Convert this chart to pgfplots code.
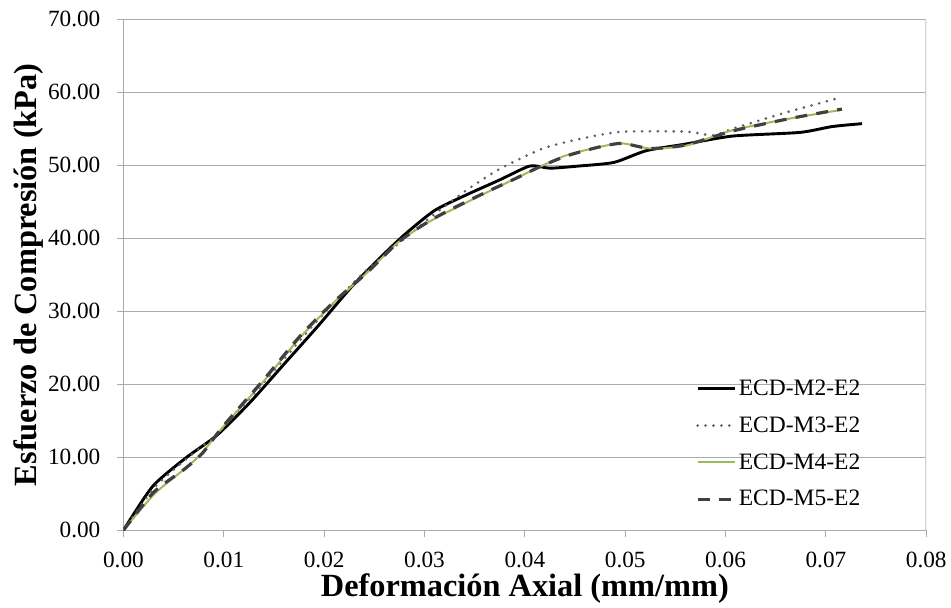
\documentclass[border=0pt]{standalone}
\usepackage{fontspec}
\setmainfont{Liberation Serif}
\usepackage{pgfplots}
\pgfplotsset{compat=1.18}
\definecolor{gridgray}{RGB}{170,170,170}
\definecolor{edgegray}{RGB}{212,212,212}
\definecolor{dotgray}{RGB}{95,95,95}
\definecolor{dashgray}{RGB}{64,64,64}
\definecolor{exgreen}{RGB}{155,187,89}

\begin{document}
\begin{tikzpicture}
\begin{axis}[
    scale only axis,
    width=608pt, height=387pt,
    xmin=0, xmax=0.08, ymin=0, ymax=70,
    xtick={0,0.01,...,0.08},
    ytick={0,10,...,70},
    ymajorgrids,
    grid style={gridgray, line width=0.8pt},
    axis line style={gridgray, line width=0.8pt},
    axis x line*=bottom, axis y line*=left,
    tick align=outside,
    major tick length=5pt,
    tick style={gridgray, line width=0.8pt},
    xtick pos=bottom, ytick pos=left,
    /pgf/number format/assume math mode=true,
    /pgf/number format/.cd, fixed, fixed zerofill, precision=2, /pgfplots/.cd,
    scaled x ticks=false,
    ticklabel style={font=\rmfamily\fontsize{17.6pt}{20pt}\selectfont, text=black},
    xticklabel style={yshift=-8pt},
    yticklabel style={xshift=-9pt},
    xlabel={\textbf{Deformación Axial (mm/mm)}},
    ylabel={\textbf{Esfuerzo de Compresión (kPa)}},
    label style={font=\rmfamily\fontsize{24.5pt}{28pt}\selectfont},
    xlabel style={at={(axis description cs:0.5,-0.129)}, anchor=base},
    ylabel style={at={(axis description cs:-0.118,0.5)}, anchor=center},
    legend style={at={(0.708,0.305)}, anchor=north west, draw=none, fill=none,
        font=\rmfamily\fontsize{17.8pt}{20pt}\selectfont, row sep=10.6pt,
        /tikz/every even column/.append style={column sep=0pt}},
    legend cell align=left,
    legend image code/.code={\draw[#1] (0pt,0pt) -- (28pt,0pt);},
]
\coordinate (topleft) at (rel axis cs:0,1);
\draw[edgegray, line width=1.5pt] (rel axis cs:1,0) -- (rel axis cs:1,1);
\addplot[black, line width=2.2pt, smooth, tension=0.4] coordinates {
(0,0) (0.0029,6.0) (0.0062,9.9) (0.0093,13.0) (0.0126,17.5) (0.0159,22.6)
(0.0194,28.0) (0.0227,33.3) (0.0257,37.5) (0.0281,40.6) (0.0310,43.8)
(0.0341,45.9) (0.0375,48.0) (0.0405,49.9) (0.0425,49.6) (0.0454,49.9)
(0.0489,50.4) (0.0521,52.0) (0.0560,52.9) (0.0607,54.0) (0.0674,54.5)
(0.0706,55.3) (0.0736,55.7)
};
\addlegendentry{ECD-M2-E2}
\addplot[dotgray, line width=2.2pt, line cap=round, dash pattern=on 0pt off 6pt, smooth, tension=0.4] coordinates {
(0,0) (0.003,5.7) (0.0061,9.6) (0.0091,12.9) (0.0121,17.3) (0.0151,22.0)
(0.0182,27.0) (0.0212,31.5) (0.0242,35.6) (0.0277,39.6) (0.0309,43.2)
(0.0342,46.6) (0.0375,49.5) (0.0418,52.3) (0.0458,53.7) (0.0497,54.6)
(0.0561,54.6) (0.0587,54.1) (0.0607,55.0) (0.0657,57.1) (0.0715,59.3)
};
\addlegendentry{ECD-M3-E2}
\addplot[exgreen, line width=1.5pt, smooth, tension=0.4] coordinates {
(0,0) (0.0031,5.0) (0.0060,8.3) (0.0077,10.4) (0.0099,14.1) (0.0139,20.3)
(0.0176,26.4) (0.0209,31.1) (0.0242,35.2) (0.0275,39.6) (0.0309,42.6)
(0.0352,45.6) (0.0391,48.2) (0.0415,49.8) (0.0442,51.4) (0.0474,52.5)
(0.0497,53.0) (0.0525,52.3) (0.0561,52.7) (0.0607,54.8) (0.0664,56.4)
(0.0716,57.6)
};
\addlegendentry{ECD-M4-E2}
\addplot[dashgray, line width=2.4pt, dash pattern=on 9pt off 7pt, smooth, tension=0.4] coordinates {
(0,0) (0.003,5.2) (0.0061,8.4) (0.0079,10.6) (0.0099,14.2) (0.0139,20.5)
(0.0176,26.6) (0.0209,31.2) (0.0242,35.2) (0.0275,39.6) (0.0309,42.7)
(0.0352,45.7) (0.0391,48.2) (0.0415,49.8) (0.0442,51.3) (0.0474,52.5)
(0.0497,53.0) (0.0525,52.3) (0.0561,52.8) (0.0607,54.7) (0.0664,56.4)
(0.0716,57.7)
};
\addlegendentry{ECD-M5-E2}
\end{axis}
\path (topleft) -- ++(0pt,14.6pt) -- ++(-93.5pt,0pt);
\end{tikzpicture}
\end{document}
